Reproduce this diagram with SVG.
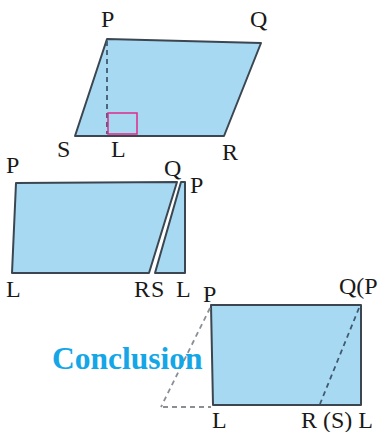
<svg xmlns="http://www.w3.org/2000/svg" width="378" height="432" viewBox="0 0 378 432">
<style>
.shape{fill:#a8d9f3;stroke:#3b4650;stroke-width:2;stroke-linejoin:round}
.lbl{font-family:"Liberation Serif",serif;font-size:24px;fill:#1a1a1a}
.dash{fill:none;stroke:#8a8f94;stroke-width:1.8;stroke-dasharray:5,4}
.dashd{fill:none;stroke:#3f5a6e;stroke-width:1.8;stroke-dasharray:5,4}
.concl{font-family:"Liberation Serif",serif;font-size:31.5px;font-weight:bold;fill:#14a6e6}
</style>
<rect width="378" height="432" fill="#ffffff"/>
<g id="parallelogram">
<polygon class="shape" points="107,39 261,43 224,136 75,136"/>
<line class="dashd" x1="107" y1="41" x2="107" y2="134" stroke-dasharray="6,5"/>
<rect x="108" y="113" width="29" height="21" fill="none" stroke="#e0288a" stroke-width="1.5"/>
<text class="lbl" x="101" y="27">P</text>
<text class="lbl" x="250" y="27">Q</text>
<text class="lbl" x="57" y="157">S</text>
<text class="lbl" x="111" y="157">L</text>
<text class="lbl" x="222" y="160">R</text>
</g>
<g id="cut-pieces">
<polygon class="shape" points="16,183 177,182 149,273 12,273"/>
<polygon class="shape" points="181,182 185,182 185,273 155,273"/>
<text class="lbl" x="6" y="173">P</text>
<text class="lbl" x="164" y="176">Q</text>
<text class="lbl" x="190" y="193">P</text>
<text class="lbl" x="6" y="297">L</text>
<text class="lbl" x="134" y="297">R</text>
<text class="lbl" x="151" y="297">S</text>
<text class="lbl" x="176" y="297">L</text>
</g>
<g id="rectangle">
<polygon class="shape" points="211,305 361,305 361,405 213,405"/>
<text class="lbl" x="203" y="302">P</text>
<text class="lbl" x="339" y="294">Q(P</text>
<text class="lbl" x="301" y="428">R (S) L</text>
<text class="lbl" x="212" y="428">L</text>
</g>
<g id="connectors">
<line class="dash" x1="210" y1="308" x2="161" y2="407"/>
<line class="dash" x1="163" y1="407" x2="211" y2="407"/>
<line class="dashd" x1="359" y1="308" x2="320" y2="404"/>
</g>
<text class="concl" x="52" y="369">Conclusion</text>
</svg>
